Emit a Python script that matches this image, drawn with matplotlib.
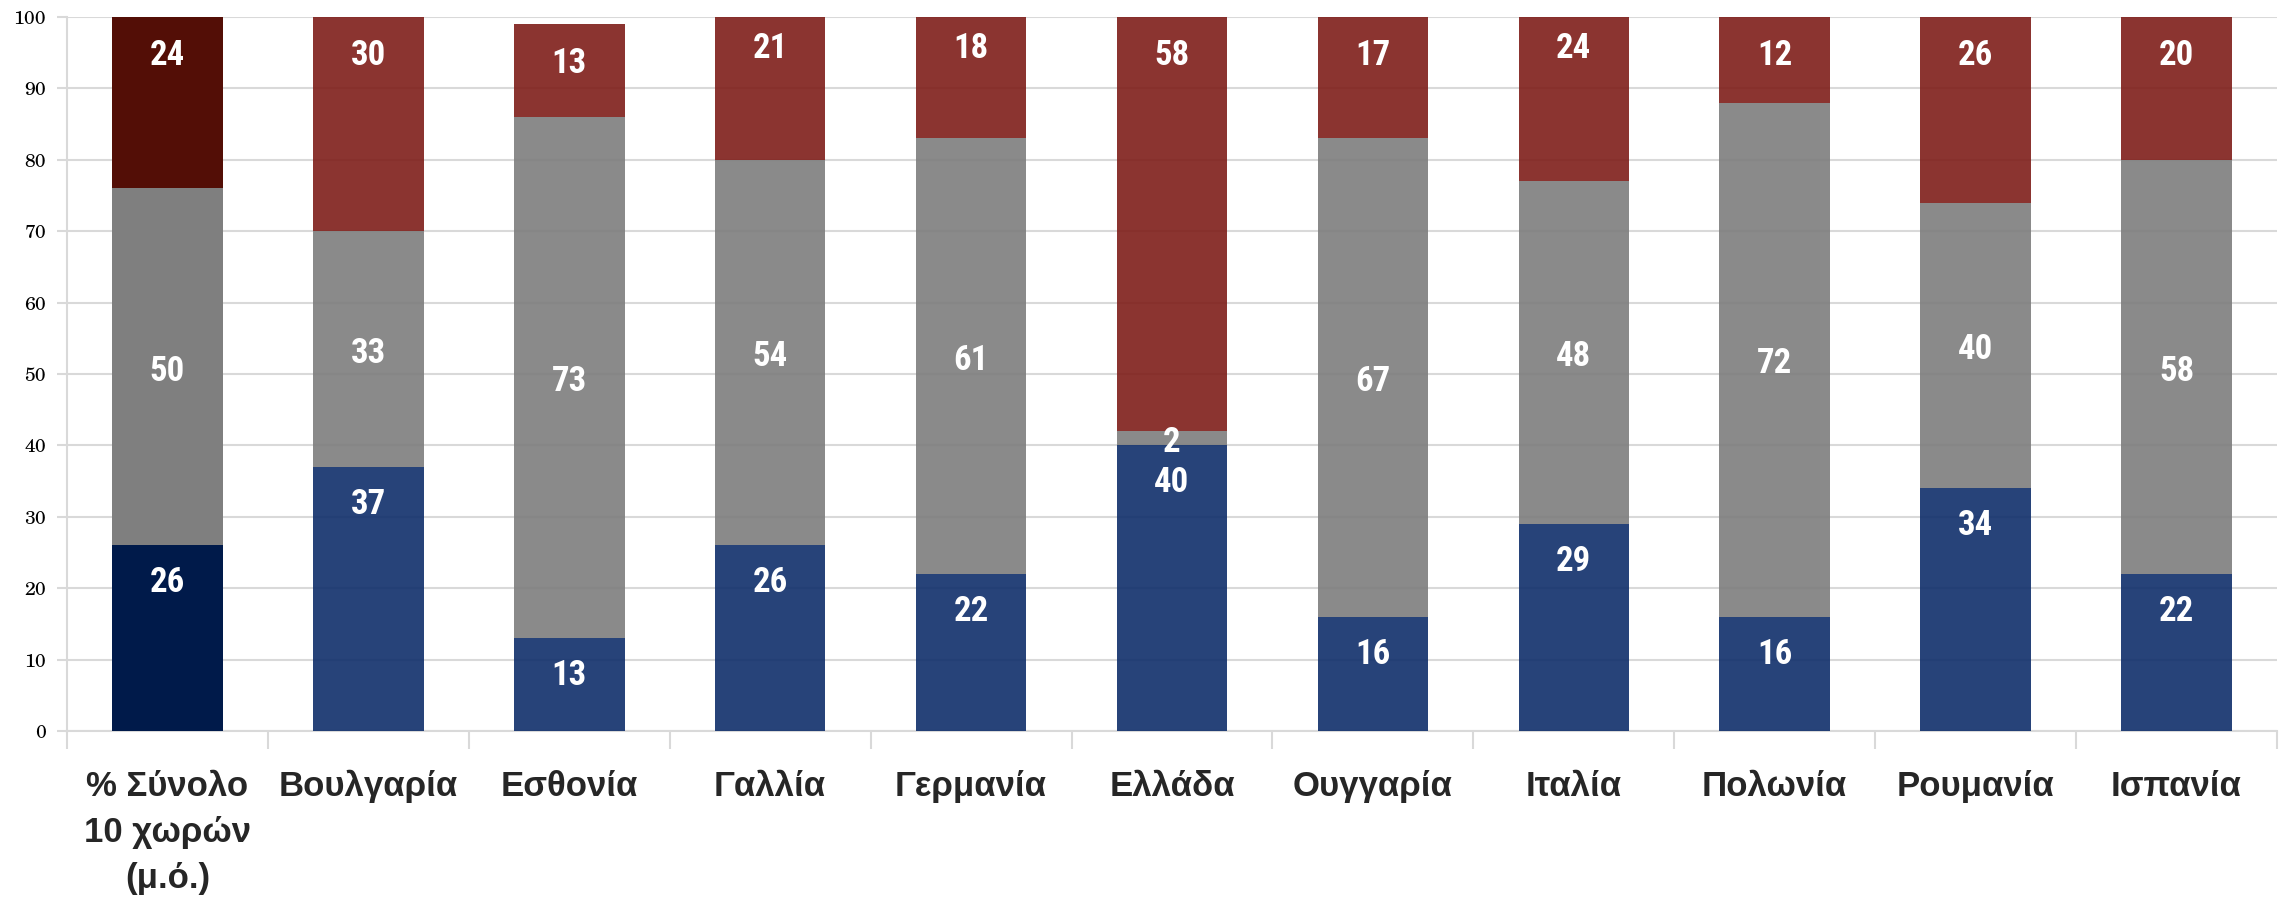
import matplotlib
matplotlib.use("Agg")
import matplotlib.pyplot as plt
import numpy as np

# data
categories = ["% Σύνολο\n10 χωρών\n(μ.ό.)", "Βουλγαρία", "Εσθονία", "Γαλλία", "Γερμανία",
              "Ελλάδα", "Ουγγαρία", "Ιταλία", "Πολωνία", "Ρουμανία", "Ισπανία"]
blue = [26, 37, 13, 26, 22, 40, 16, 29, 16, 34, 22]
grey = [50, 33, 73, 54, 61, 2, 67, 48, 72, 40, 58]
red = [24, 30, 13, 21, 18, 58, 17, 24, 12, 26, 20]

# first bar (average) is darker than the country bars
blue_cols = ["#001A4A"] + ["#0F2E6A"] * 10
grey_cols = ["#7F7F7F"] + ["#7D7D7D"] * 10
red_cols = ["#530E06"] + ["#7E1E19"] * 10
alphas = [1.0] + [0.9] * 10

num_lab_font = ["Roboto Condensed", "DejaVu Sans"]
cat_font = ["Liberation Sans", "Arial", "DejaVu Sans"]
tick_font = ["TeX Gyre Schola", "C059", "Century Schoolbook L", "DejaVu Serif"]

fig = plt.figure(figsize=(22.87, 9.05), dpi=100)
ax = fig.add_axes([0.0293, 0.1923, 0.9663, 0.7889])

x = np.arange(len(categories))
w = 0.55
b = np.array(blue)
g = np.array(grey)
r = np.array(red)
for i in range(len(x)):
    ax.bar(x[i], b[i], w, color=blue_cols[i], alpha=alphas[i], zorder=3)
    ax.bar(x[i], g[i], w, bottom=b[i], color=grey_cols[i], alpha=alphas[i], zorder=3)
    ax.bar(x[i], r[i], w, bottom=b[i] + g[i], color=red_cols[i], alpha=alphas[i], zorder=3)

# value labels
lab = dict(ha="center", va="center", color="white", fontsize=25, fontweight="bold",
           family=num_lab_font, zorder=5, textcoords="offset points", annotation_clip=False)
for i in range(len(x)):
    ax.annotate(str(b[i]), (x[i], b[i]), xytext=(0, -27), **lab)
    ax.annotate(str(g[i]), (x[i], b[i] + g[i] / 2), xytext=(0, -3), **lab)
    ax.annotate(str(r[i]), (x[i], b[i] + g[i] + r[i]), xytext=(0, -28), **lab)

ax.set_ylim(0, 100)
ax.set_xlim(-0.5, len(x) - 0.5)
ax.set_yticks(range(0, 101, 10))
ax.set_yticklabels([str(v) for v in range(0, 101, 10)], family=tick_font, fontsize=14)
ax.yaxis.grid(True, color="#D9D9D9", linewidth=1.5, zorder=0)
ax.set_axisbelow(True)

ax.set_xticks(np.arange(-0.5, len(x), 1))
ax.set_xticklabels([])
ax.set_xticks(x, minor=True)
ax.set_xticklabels(categories, minor=True, fontsize=25, fontweight="bold", color="#262626",
                   family=cat_font, linespacing=1.5)
ax.tick_params(axis="x", which="major", length=13, width=1.5, color="#D9D9D9")
ax.tick_params(axis="x", which="minor", length=0, pad=28)
ax.tick_params(axis="y", length=7, width=1.5, color="#D9D9D9", pad=8)

for s in ["top", "right"]:
    ax.spines[s].set_visible(False)
for s in ["left", "bottom"]:
    ax.spines[s].set_color("#D9D9D9")
    ax.spines[s].set_linewidth(1.5)

fig.savefig("out.png", dpi=100)
